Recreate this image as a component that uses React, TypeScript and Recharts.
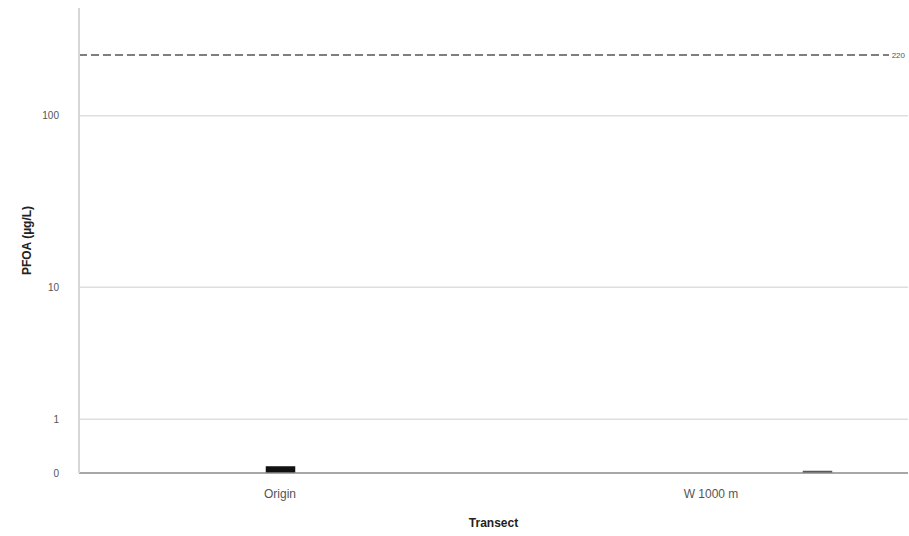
import React from 'react';
import { ComposedChart, Bar, Cell, XAxis, YAxis, CartesianGrid, ReferenceLine } from 'recharts';

// PFOA (µg/L) by transect, shown as compressed boxes near zero
const transects = ['Origin', 'W 1000 m'];
const boxLow = [0, 0];
const boxHigh = [0.08, 0.02];
const boxColors = ['#111111', '#5a5a5a'];
const yTicks = [0, 1, 10, 100];
const gridValues = [1, 10, 100];
const guideValue = 220;

const data = transects.map((t, i) => ({
  transect: t,
  low: boxLow[i],
  box: boxHigh[i] - boxLow[i]
}));

const GuideLabel = (props: any) => {
  const { viewBox } = props;
  if (!viewBox) return null;
  const x = viewBox.x + viewBox.width;
  const y = viewBox.y;
  return (
    <g>
      <rect x={x - 19} y={y - 6} width={19} height={12} fill="#fff" />
      <text x={x - 3} y={y + 3} textAnchor="end" fontSize={8} fill="#555">
        {guideValue}
      </text>
    </g>
  );
};

const App: React.FC = () => {
  return (
    <div style={styles.wrap}>
      <ComposedChart
        width={909}
        height={536}
        data={data}
        margin={{ top: 8, right: 1, left: 39, bottom: 33 }}
      >
        <CartesianGrid horizontal vertical={false} horizontalValues={gridValues} stroke="#dedede" strokeWidth={1.5} />
        <XAxis
          dataKey="transect"
          scale="point"
          padding={{ left: 201, right: 197 }}
          axisLine={{ stroke: '#8a8a8a', strokeWidth: 1.5 }}
          tickLine={false}
          tick={{ fill: '#555', fontSize: 12 }}
          tickMargin={10}
          height={30}
          label={{ value: 'Transect', position: 'insideBottom', offset: -24, fill: '#222', fontSize: 12, fontWeight: 'bold' }}
        />
        <XAxis
          xAxisId="box"
          dataKey="transect"
          scale="point"
          padding={{ left: 201, right: 91 }}
          hide
        />
        <YAxis
          scale="symlog"
          domain={[0, 405]}
          ticks={yTicks}
          allowDataOverflow
          axisLine={{ stroke: '#d6d6d6', strokeWidth: 2 }}
          tickLine={false}
          tick={{ fill: '#555', fontSize: 10 }}
          tickMargin={14}
          width={40}
          label={{ value: 'PFOA (µg/L)', angle: -90, position: 'insideLeft', offset: -12, fill: '#222', fontSize: 12, fontWeight: 'bold', style: { textAnchor: 'middle' } }}
        />
        <ReferenceLine
          y={guideValue}
          stroke="#555"
          strokeWidth={1.5}
          strokeDasharray="8 4"
          label={<GuideLabel />}
        />
        <Bar dataKey="low" xAxisId="box" stackId="b" fill="transparent" barSize={28} isAnimationActive={false} />
        <Bar dataKey="box" xAxisId="box" stackId="b" barSize={28} isAnimationActive={false}>
          {data.map((d, i) => (
            <Cell key={d.transect} fill={boxColors[i]} stroke={boxColors[i]} strokeWidth={1.5} />
          ))}
        </Bar>
      </ComposedChart>
    </div>
  );
};

const styles = {
  wrap: {
    position: 'absolute' as const,
    top: 0,
    left: 0,
    width: '909px',
    height: '536px',
    fontFamily: '"Liberation Sans", Arial, sans-serif',
    background: '#fff'
  }
};

export default App;
